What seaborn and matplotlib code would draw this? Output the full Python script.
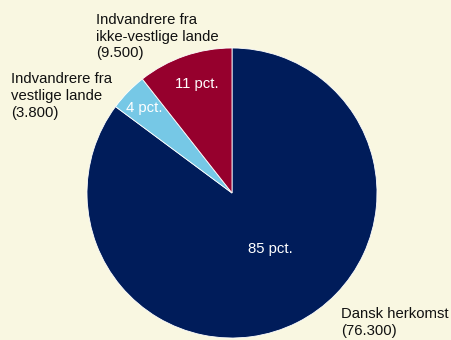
import numpy as np
import matplotlib
matplotlib.use("Agg")
import matplotlib.pyplot as plt
import seaborn as sns

# Data
kategorier = ["Dansk herkomst", "Indvandrere fra\nvestlige lande", "Indvandrere fra\nikke-vestlige lande"]
antal = [76300, 3800, 9500]
farver = ["#001c5a", "#76c8e6", "#96002d"]

sns.set_theme(style="white")
plt.rcParams['font.family'] = ['Liberation Sans', 'DejaVu Sans']

bg = "#f9f7e1"
fig = plt.figure(figsize=(4.51, 3.40), dpi=100, facecolor=bg)
ax = fig.add_axes([0, 0, 1, 1])
ax.set_facecolor(bg)

cx, cy, r = 232, 147, 145
wedges, _ = ax.pie(antal, colors=farver, startangle=90, counterclock=False,
                   center=(cx, cy), radius=r, frame=True,
                   wedgeprops=dict(edgecolor="white", linewidth=0.6))
ax.set_xlim(0, 451)
ax.set_ylim(0, 340)
ax.set_aspect('equal')
ax.axis('off')

# procent-tekster inde i stykkerne (afstand fra centrum, vinkel-justering)
total = sum(antal)
afstand = [0.47, 0.84, 0.79]
vinkel_just = [8, 0, -1]
for w, v, d, dv in zip(wedges, antal, afstand, vinkel_just):
    vinkel = np.deg2rad((w.theta1 + w.theta2) / 2 + dv)
    ax.text(cx + d * r * np.cos(vinkel), cy + d * r * np.sin(vinkel),
            f"{round(v / total * 100)} pct.", color="white", fontsize=10.7,
            ha="center", va="center")

# etiketter
def fmt(v):
    return f"{v:,}".replace(",", ".")

ax.text(341, 340 - 307, f"{kategorier[0]}\n({fmt(antal[0])})", fontsize=10.7,
        ha="left", va="top", color="#111111", linespacing=1.25)
ax.text(11, 340 - 72, f"{kategorier[1]}\n({fmt(antal[1])})", fontsize=10.7,
        ha="left", va="top", color="#111111", linespacing=1.25)
ax.text(96, 340 - 13, f"{kategorier[2]}\n({fmt(antal[2])})", fontsize=10.7,
        ha="left", va="top", color="#111111", linespacing=1.25)

fig.savefig("out.png", dpi=100, facecolor=bg)
